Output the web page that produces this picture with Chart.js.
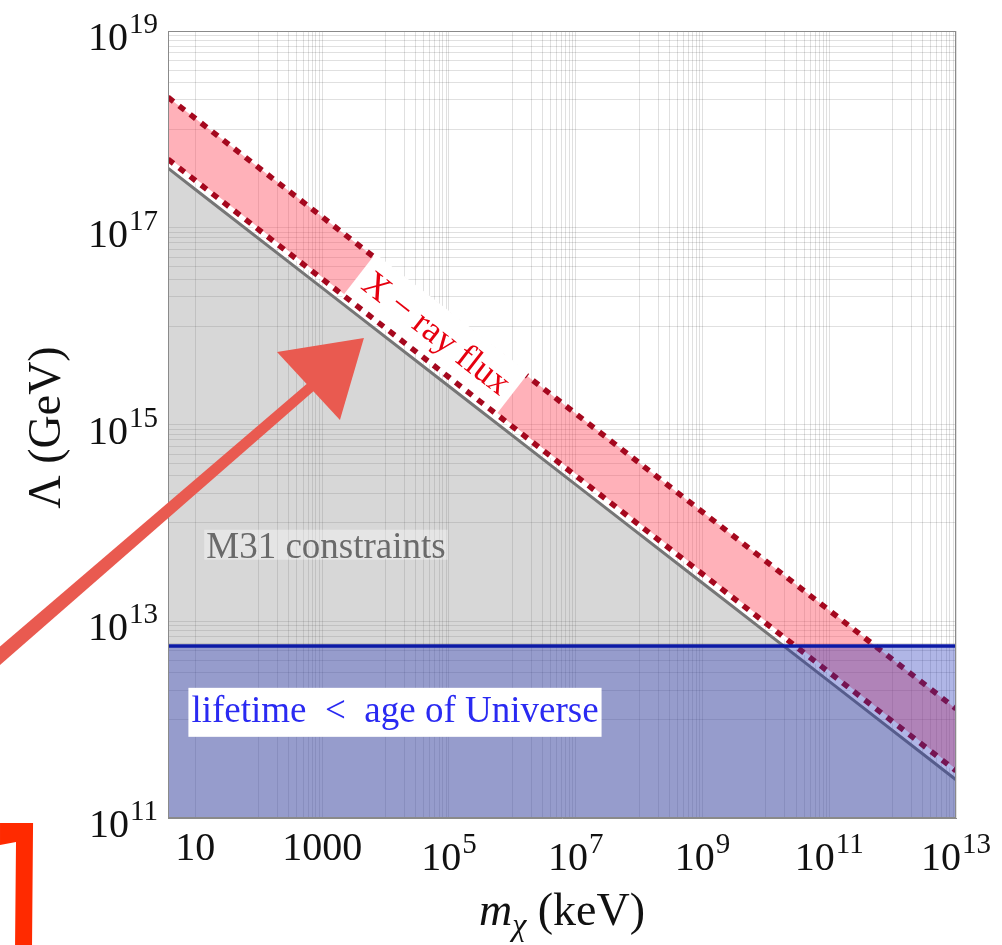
<!DOCTYPE html>
<html><head><meta charset="utf-8">
<script src="https://cdn.jsdelivr.net/npm/chart.js@4.4.1/dist/chart.umd.min.js"></script>
<style>html,body{margin:0;padding:0;background:#fff;}#wrap{width:1002px;height:945px;}</style>
</head><body><div id="wrap"><canvas id="c" width="1002" height="945"></canvas></div>
<script>
// ---- data (log-log straight lines) ----
const massKeV       = [3.7, 10, 1e3, 1e5, 1e7, 1e9, 1e11, 1e13];
const m31Bound      = [4.04e17, 2.45e17, 2.45e16, 2.45e15, 2.45e14, 2.45e13, 2.45e12, 2.45e11];
const xrayUpper     = [2.12e18, 1.29e18, 1.29e17, 1.29e16, 1.29e15, 1.29e14, 1.29e13, 1.29e12];
const xrayLower     = [4.97e17, 3.02e17, 3.02e16, 3.02e15, 3.02e14, 3.02e13, 3.02e12, 3.02e11];
const lifetimeBound = [5.6e12, 5.6e12, 5.6e12, 5.6e12, 5.6e12, 5.6e12, 5.6e12, 5.6e12];

const xRange = [3.7, 1e13];
const yRange = [1e11, 1e19];
const xTickValues = [10, 1e3, 1e5, 1e7, 1e9, 1e11, 1e13];
const xTickLabels = ['10', '1000', '10^5', '10^7', '10^9', '10^11', '10^13'];
const yTickValues = [1e11, 1e13, 1e15, 1e17, 1e19];
const yTickLabels = ['10^11', '10^13', '10^15', '10^17', '10^19'];
const xMinorDecades = [1e2, 1e4, 1e6, 1e8, 1e10, 1e12];
const yMinorDecades = [1e12, 1e14, 1e16, 1e18];
const minorMultipliers = [1, 2, 3, 4, 5, 6, 7, 8, 9];

const xAxisTitle = ['m', 'χ', ' (keV)'];
const yAxisTitle = 'Λ (GeV)';
const labelXray = 'X − ray flux';
const labelM31 = 'M31 constraints';
const labelLifetime = 'lifetime  <  age of Universe';

// annotation anchors in data units (mass keV, Λ GeV)
const xrayLabelMass = 6.0e4;
const m31LabelPos = [1150, 6.0e13];
const lifetimeLabelPos = [1.41e4, 1.2e12];
const arrowShaft = [[6.9e-3, 4.04e12], [690, 2.46e15]];
const arrowHead = [[194, 5.46e15], [4560, 7.57e15], [1910, 1.11e15]];
const bracketPts = [[8.28e-3, 8.89e10], [2.75e-2, 8.89e10], [2.65e-2, 5.12e9], [1.43e-2, 5.12e9], [1.48e-2, 5.70e10], [8.28e-3, 5.32e10]];

const pts = arr => massKeV.map((m, i) => ({x: m, y: arr[i]}));
const gridVals = (decades, majors) => {
  const v = [];
  decades.forEach(d => minorMultipliers.forEach(k => v.push(k * d)));
  return v.concat(majors).sort((a, b) => a - b);
};
const xGrid = gridVals(xMinorDecades, xTickValues);
const yGrid = gridVals(yMinorDecades, yTickValues);

const SERIF = '"Liberation Serif", "Times New Roman", serif';
const IDX_UPPER = 1, IDX_LOWER = 3;

function lineYAt(meta, px) {
  const p = meta.data;
  for (let i = 0; i < p.length - 1; i++) {
    if (px >= p[i].x && px <= p[i + 1].x) {
      const t = (px - p[i].x) / (p[i + 1].x - p[i].x);
      return p[i].y + t * (p[i + 1].y - p[i].y);
    }
  }
  return p[p.length - 1].y;
}

function drawPow(ctx, label, x, baseY, align) {
  const parts = label.split('^');
  ctx.font = '40px ' + SERIF;
  const wb = ctx.measureText(parts[0]).width;
  let ws = 0;
  if (parts[1]) { ctx.font = '29px ' + SERIF; ws = ctx.measureText(parts[1]).width + 1; }
  const w = wb + ws;
  const sx = align === 'right' ? x - w : x - w / 2;
  ctx.textAlign = 'left';
  ctx.textBaseline = 'alphabetic';
  ctx.fillStyle = '#111';
  ctx.font = '40px ' + SERIF;
  ctx.fillText(parts[0], sx, baseY);
  if (parts[1]) { ctx.font = '29px ' + SERIF; ctx.fillText(parts[1], sx + wb + 1, baseY - 17); }
}

const annot = {
  id: 'annot',
  afterDatasetDraw(chart, args) {
    if (args.index !== IDX_UPPER) return;
    const ctx = chart.ctx, xs = chart.scales.x;
    const mu = chart.getDatasetMeta(IDX_UPPER), ml = chart.getDatasetMeta(IDX_LOWER);
    const cx = xs.getPixelForValue(xrayLabelMass);
    const yu = lineYAt(mu, cx), yl = lineYAt(ml, cx);
    const cy = (yu + yl) / 2;
    const p0 = mu.data[1], p1 = mu.data[mu.data.length - 1];
    const ang = Math.atan2(p1.y - p0.y, p1.x - p0.x);
    const half = (yl - yu) * Math.cos(ang) / 2;
    ctx.save();
    ctx.translate(cx, cy);
    ctx.rotate(ang);
    ctx.fillStyle = '#ffffff';
    ctx.fillRect(-97, -half - 3.5, 194, 2 * half + 3.5);
    ctx.fillStyle = '#e6000f';
    ctx.font = '36px ' + SERIF;
    ctx.textAlign = 'center';
    ctx.textBaseline = 'middle';
    ctx.fillText(labelXray, 0, -1);
    ctx.restore();
  },
  afterDatasetsDraw(chart) {
    const ctx = chart.ctx, a = chart.chartArea, xs = chart.scales.x, ys = chart.scales.y;
    // frame
    ctx.save();
    ctx.strokeStyle = '#8a8a8a';
    ctx.lineWidth = 1;
    ctx.strokeRect(Math.round(a.left) + 0.5, Math.round(a.top) + 0.5, Math.round(a.right - a.left) - 1, Math.round(a.bottom - a.top) - 1);
    // M31 label
    let x = xs.getPixelForValue(m31LabelPos[0]), y = ys.getPixelForValue(m31LabelPos[1]);
    ctx.font = '37px ' + SERIF;
    let w = ctx.measureText(labelM31).width;
    ctx.fillStyle = 'rgba(255,255,255,0.35)';
    ctx.fillRect(x - w / 2 - 2, y - 15, w + 4, 30);
    ctx.fillStyle = '#6a6a6a';
    ctx.textAlign = 'center';
    ctx.textBaseline = 'alphabetic';
    ctx.fillText(labelM31, x, y + 13);
    // lifetime label
    x = xs.getPixelForValue(lifetimeLabelPos[0]); y = ys.getPixelForValue(lifetimeLabelPos[1]);
    ctx.font = '37px ' + SERIF;
    w = ctx.measureText(labelLifetime).width;
    ctx.fillStyle = '#ffffff';
    ctx.fillRect(x - w / 2 - 3, y - 24, w + 6, 49);
    ctx.fillStyle = '#2a2af2';
    ctx.fillText(labelLifetime, x, y + 10);
    ctx.restore();
  },
  afterDraw(chart) {
    const ctx = chart.ctx, a = chart.chartArea, xs = chart.scales.x, ys = chart.scales.y;
    ctx.save();
    // tick labels
    xTickValues.forEach((v, i) => {
      const lab = xTickLabels[i];
      drawPow(ctx, lab, xs.getPixelForValue(v), a.bottom + (lab.includes('^') ? 52 : 42), 'center');
    });
    yTickValues.forEach((v, i) => {
      drawPow(ctx, yTickLabels[i], a.left - 10, ys.getPixelForValue(v) + 19, 'right');
    });
    // y title
    ctx.save();
    ctx.translate(48, (a.top + a.bottom) / 2 + 3);
    ctx.rotate(-Math.PI / 2);
    ctx.font = '46px ' + SERIF;
    ctx.fillStyle = '#111';
    ctx.textAlign = 'center';
    ctx.textBaseline = 'middle';
    ctx.fillText(yAxisTitle, 0, 0);
    ctx.restore();
    // x title
    const f1 = 'italic 46px ' + SERIF, f2 = 'italic 32px ' + SERIF, f3 = '46px ' + SERIF;
    ctx.font = f1; const w1 = ctx.measureText(xAxisTitle[0]).width;
    ctx.font = f2; const w2 = ctx.measureText(xAxisTitle[1]).width;
    ctx.font = f3; const w3 = ctx.measureText(xAxisTitle[2]).width;
    const cxT = (a.left + a.right) / 2;
    let sx = cxT - (w1 + w2 + w3) / 2;
    const by = a.bottom + 107;
    ctx.textAlign = 'left'; ctx.textBaseline = 'alphabetic'; ctx.fillStyle = '#111';
    ctx.font = f1; ctx.fillText(xAxisTitle[0], sx, by);
    ctx.font = f2; ctx.fillText(xAxisTitle[1], sx + w1, by + 10);
    ctx.font = f3; ctx.fillText(xAxisTitle[2], sx + w1 + w2, by);
    // hand-drawn arrow
    const P = p => [xs.getPixelForValue(p[0]), ys.getPixelForValue(p[1])];
    const s0 = P(arrowShaft[0]), s1 = P(arrowShaft[1]);
    const dx = s1[0] - s0[0], dy = s1[1] - s0[1], L = Math.hypot(dx, dy);
    const nx = -dy / L, ny = dx / L;
    ctx.fillStyle = '#e95a50';
    ctx.beginPath();
    ctx.moveTo(s0[0] + nx * 7, s0[1] + ny * 7);
    ctx.lineTo(s1[0] + nx * 5, s1[1] + ny * 5);
    ctx.lineTo(s1[0] - nx * 5, s1[1] - ny * 5);
    ctx.lineTo(s0[0] - nx * 7, s0[1] - ny * 7);
    ctx.closePath();
    ctx.fill();
    ctx.beginPath();
    arrowHead.forEach((p, i) => { const q = P(p); i ? ctx.lineTo(q[0], q[1]) : ctx.moveTo(q[0], q[1]); });
    ctx.closePath();
    ctx.fill();
    // red bracket
    ctx.fillStyle = '#ff2a00';
    ctx.beginPath();
    bracketPts.forEach((p, i) => { const q = P(p); i ? ctx.lineTo(q[0], q[1]) : ctx.moveTo(q[0], q[1]); });
    ctx.closePath();
    ctx.fill();
    ctx.restore();
  }
};

const gridOpts = {color: 'rgba(0,0,0,0.12)', lineWidth: 1, drawTicks: false};
new Chart(document.getElementById('c'), {
  type: 'line',
  data: {
    datasets: [
      {label: 'M31', data: pts(m31Bound), borderColor: '#767676', borderWidth: 3,
       fill: 'start', backgroundColor: 'rgba(110,110,110,0.28)', order: 9},
      {label: 'X-ray upper', data: pts(xrayUpper), borderColor: '#a5081e', borderWidth: 5.5,
       borderDash: [7, 7], fill: IDX_LOWER, backgroundColor: 'rgba(255,60,80,0.40)', order: 8},
      {label: 'edge', data: pts(xrayLower), borderColor: '#ffffff', borderWidth: 3, fill: false, order: 7},
      {label: 'X-ray lower', data: pts(xrayLower), borderColor: '#a5081e', borderWidth: 5.5,
       borderDash: [7, 7], fill: false, order: 6},
      {label: 'lifetime fill', data: pts(lifetimeBound), borderWidth: 0, borderColor: 'rgba(0,0,0,0)',
       fill: 'start', backgroundColor: 'rgba(30,46,183,0.35)', order: 5},
      {label: 'lifetime', data: pts(lifetimeBound), borderColor: '#0c1aa6', borderWidth: 3.5, fill: false, order: 4}
    ]
  },
  options: {
    responsive: false,
    animation: false,
    devicePixelRatio: 1,
    elements: {point: {radius: 0, hoverRadius: 0}, line: {tension: 0}},
    layout: {padding: {top: 31, right: 46, left: 0, bottom: 0}},
    plugins: {legend: {display: false}, tooltip: {enabled: false}},
    events: [],
    scales: {
      x: {type: 'logarithmic', min: xRange[0], max: xRange[1],
          ticks: {display: false}, grid: gridOpts,
          border: {display: true, color: '#8a8a8a', width: 1},
          afterBuildTicks: s => { s.ticks = xGrid.map(v => ({value: v})); },
          afterFit: s => { s.height = 127; }},
      y: {type: 'logarithmic', min: yRange[0], max: yRange[1],
          ticks: {display: false}, grid: gridOpts,
          border: {display: true, color: '#8a8a8a', width: 1},
          afterBuildTicks: s => { s.ticks = yGrid.map(v => ({value: v})); },
          afterFit: s => { s.width = 168; }}
    }
  },
  plugins: [annot]
});
</script>
</body></html>
